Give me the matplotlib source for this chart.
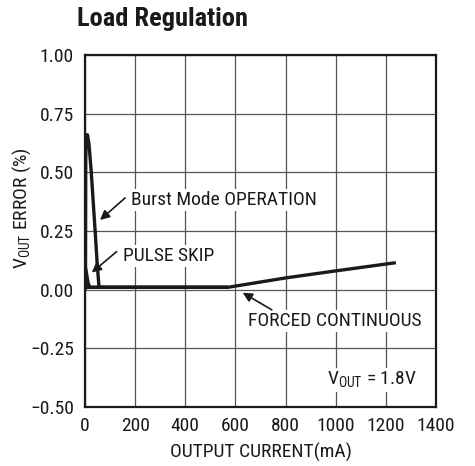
import matplotlib
matplotlib.use("Agg")
import matplotlib.pyplot as plt

plt.rcParams['font.family'] = ['Roboto Condensed', 'DejaVu Sans']

# Data
burst_x = [2, 3, 5, 10, 16, 25, 33, 41, 48, 53, 56, 60, 100, 300, 570]
burst_y = [0.0, 0.55, 0.66, 0.66, 0.62, 0.50, 0.37, 0.24, 0.12, 0.05, 0.01, 0.01, 0.01, 0.01, 0.01]
skip_x = [1, 6, 12, 19, 30, 200, 570]
skip_y = [0.10, 0.07, 0.03, 0.01, 0.01, 0.01, 0.01]
forced_x = [0, 200, 400, 570, 800, 1000, 1240]
forced_y = [0.01, 0.01, 0.01, 0.01, 0.05, 0.08, 0.115]

xticks = [0, 200, 400, 600, 800, 1000, 1200, 1400]
yticks = [-0.50, -0.25, 0.00, 0.25, 0.50, 0.75, 1.00]
ytick_labels = ['\u22120.50', '\u22120.25', '0.00', '0.25', '0.50', '0.75', '1.00']

FS = 14
INK = '#1a1a1a'

fig = plt.figure(figsize=(4.75, 4.66), dpi=100)
ax = fig.add_axes([85/475, 1-407/466, 351/475, 352/466])

ax.plot(forced_x, forced_y, color=INK, lw=2.4, solid_capstyle='butt', zorder=3)
ax.plot(skip_x, skip_y, color=INK, lw=2.4, solid_capstyle='butt', zorder=3)
ax.plot(burst_x, burst_y, color=INK, lw=2.4, solid_capstyle='butt', zorder=3)

ax.set_xlim(0, 1400)
ax.set_ylim(-0.5, 1.0)
ax.set_xticks(xticks)
ax.set_yticks(yticks)
ax.set_yticklabels(ytick_labels)
ax.tick_params(length=0, labelsize=FS, colors=INK)
ax.tick_params(axis='y', pad=8)
ax.tick_params(axis='x', pad=7)
ax.grid(True, color='#555555', lw=0.9)
ax.set_axisbelow(True)
for s in ax.spines.values():
    s.set_color(INK)
    s.set_linewidth(1.6)

ax.set_xlabel('OUTPUT CURRENT(mA)', fontsize=FS, color=INK, labelpad=6)
ax.set_ylabel(r'V$_{\mathregular{OUT}}$ ERROR (%)', fontsize=FS, color=INK)
ax.yaxis.set_label_coords(-0.148, 0.565)

bbox = dict(facecolor='white', edgecolor='none', pad=1.5)
arrow = dict(arrowstyle='-|>', color=INK, lw=1.2, mutation_scale=14, shrinkA=0, shrinkB=0)

ax.text(183, 0.382, 'Burst Mode OPERATION', fontsize=FS, va='center', ha='left', color=INK, bbox=bbox)
ax.annotate('', xy=(60, 0.297), xytext=(160, 0.391), arrowprops=arrow)

ax.text(152, 0.144, 'PULSE SKIP', fontsize=FS, va='center', ha='left', color=INK, bbox=bbox)
ax.annotate('', xy=(27, 0.073), xytext=(126, 0.162), arrowprops=arrow)

ax.text(651, -0.132, 'FORCED CONTINUOUS', fontsize=FS, va='center', ha='left', color=INK, bbox=bbox)
ax.annotate('', xy=(629, -0.013), xytext=(745, -0.086), arrowprops=arrow)

ax.text(1323, -0.385, r'V$_{\mathregular{OUT}}$ = 1.8V', fontsize=FS, va='center', ha='right',
        color=INK, bbox=bbox)

fig.text(77/475, 1-19/466, 'Load Regulation', fontsize=19, fontweight='bold',
         va='center', ha='left', color=INK)

fig.savefig('out.png', dpi=100)
